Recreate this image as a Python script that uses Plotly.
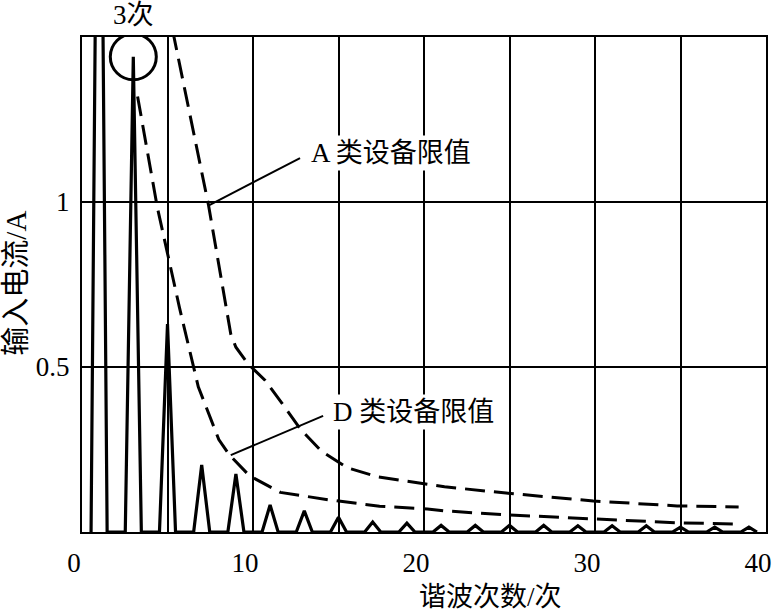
import plotly.graph_objects as go

# ---------------- data ----------------
harmonic_orders = list(range(1, 40, 2))
harmonic_current = [2.95, 1.44, 0.63, 0.203, 0.176, 0.082, 0.064, 0.045, 0.030, 0.027,
                    0.020, 0.020, 0.020, 0.020, 0.019, 0.019, 0.019, 0.015, 0.015, 0.015]

class_a_x = [5.3, 7.4, 8.7, 9.0, 9.7, 10.7, 11.7, 12.8, 14.0, 15.5, 17.3, 19.8, 21.2, 24.8, 29.9, 34.8, 38.4]
class_a_y = [1.52, 0.99, 0.60, 0.56, 0.51, 0.46, 0.39, 0.31, 0.245, 0.195, 0.167, 0.148, 0.137, 0.118, 0.094, 0.079, 0.076]

class_d_x = [3.25, 4.4, 5.7, 6.8, 8.0, 8.6, 9.8, 11.6, 14.5, 17.4, 20.2, 21.2, 24.8, 29.9, 34.8, 38.4]
class_d_y = [1.32, 0.985, 0.68, 0.44, 0.28, 0.235, 0.17, 0.12, 0.097, 0.078, 0.070, 0.064, 0.052, 0.039, 0.028, 0.024]

x_ticks = [0, 10, 20, 30, 40]
x_minor = [5, 15, 25, 35]
y_ticks = [0.5, 1]
y_ticktext = ["0.5", "1"]

x_title = "谐波次数/次"
y_title = "输入电流/A"
label_a = "A 类设备限值"
label_d = "D 类设备限值"
label_3 = "3次"

# ---------------- style ----------------
FONT = "Liberation Serif, 'Noto Sans CJK SC', serif"
FS = 27
half_base = 0.47  # half width of each spectral spike (style)

# spectrum polyline built from harmonic data
spec_x, spec_y = [], []
for h, a in zip(harmonic_orders, harmonic_current):
    spec_x += [h - half_base, h, h + half_base]
    spec_y += [0, a, 0]

fig = go.Figure()
fig.add_trace(go.Scatter(x=spec_x, y=spec_y, mode="lines",
                         line=dict(color="black", width=3.2), showlegend=False, hoverinfo="skip"))
fig.add_trace(go.Scatter(x=class_a_x, y=class_a_y, mode="lines",
                         line=dict(color="black", width=3, dash="20px,9px"), showlegend=False))
fig.add_trace(go.Scatter(x=class_d_x, y=class_d_y, mode="lines",
                         line=dict(color="black", width=3, dash="20px,9px"), showlegend=False))

# circle around the 3rd harmonic peak
peak3 = harmonic_current[harmonic_orders.index(3)]
fig.add_shape(type="circle", xref="x", yref="y", xsizemode="pixel", ysizemode="pixel",
              xanchor=3, yanchor=peak3, x0=-23, x1=23, y0=-23, y1=23,
              line=dict(color="black", width=3))

# leader lines
fig.add_shape(type="line", xref="x", yref="y", x0=7.42, y0=0.99, x1=12.75, y1=1.133,
              line=dict(color="black", width=2))
fig.add_shape(type="line", xref="x", yref="y", x0=8.7, y0=0.233, x1=14.1, y1=0.352,
              line=dict(color="black", width=2))

ann_font = dict(family=FONT, size=FS, color="black")
fig.add_annotation(x=13.2, y=1.148, xref="x", yref="y", text=label_a, showarrow=False,
                   xanchor="left", yanchor="middle", bgcolor="white", borderpad=2, font=ann_font)
fig.add_annotation(x=14.5, y=0.364, xref="x", yref="y", text=label_d, showarrow=False,
                   xanchor="left", yanchor="middle", bgcolor="white", borderpad=2, font=ann_font)
fig.add_annotation(x=3, y=1.044, xref="x", yref="paper", text=label_3, showarrow=False,
                   xanchor="center", yanchor="middle", font=ann_font)
fig.add_annotation(x=0.597, y=-0.131, xref="paper", yref="paper", text=x_title, showarrow=False,
                   xanchor="center", yanchor="middle", font=ann_font)
fig.add_annotation(x=-0.097, y=0.503, xref="paper", yref="paper", text=y_title, showarrow=False,
                   textangle=-90, xanchor="center", yanchor="middle",
                   font=dict(family=FONT, size=29, color="black"))

axis_common = dict(showgrid=True, gridcolor="black", gridwidth=2, showline=True, linecolor="black",
                   linewidth=2, mirror=True, ticks="", zeroline=False,
                   tickfont=dict(family=FONT, size=FS, color="black"))

fig.update_layout(
    width=784, height=612,
    margin=dict(l=82, r=12, t=37, b=80),
    paper_bgcolor="white", plot_bgcolor="white",
    xaxis=dict(range=[0, 40], tickvals=x_ticks, ticklabelshift=-8, ticklabelstandoff=6,
               minor=dict(tickvals=x_minor, showgrid=True, gridcolor="black", gridwidth=2),
               **axis_common),
    yaxis=dict(range=[0, 1.5], tickvals=y_ticks, ticktext=y_ticktext, ticklabelstandoff=5,
               **axis_common),
)

fig.write_html("out.html", config={"displayModeBar": False},
               post_script="document.body.style.margin='0px';document.body.style.overflow='hidden';")
